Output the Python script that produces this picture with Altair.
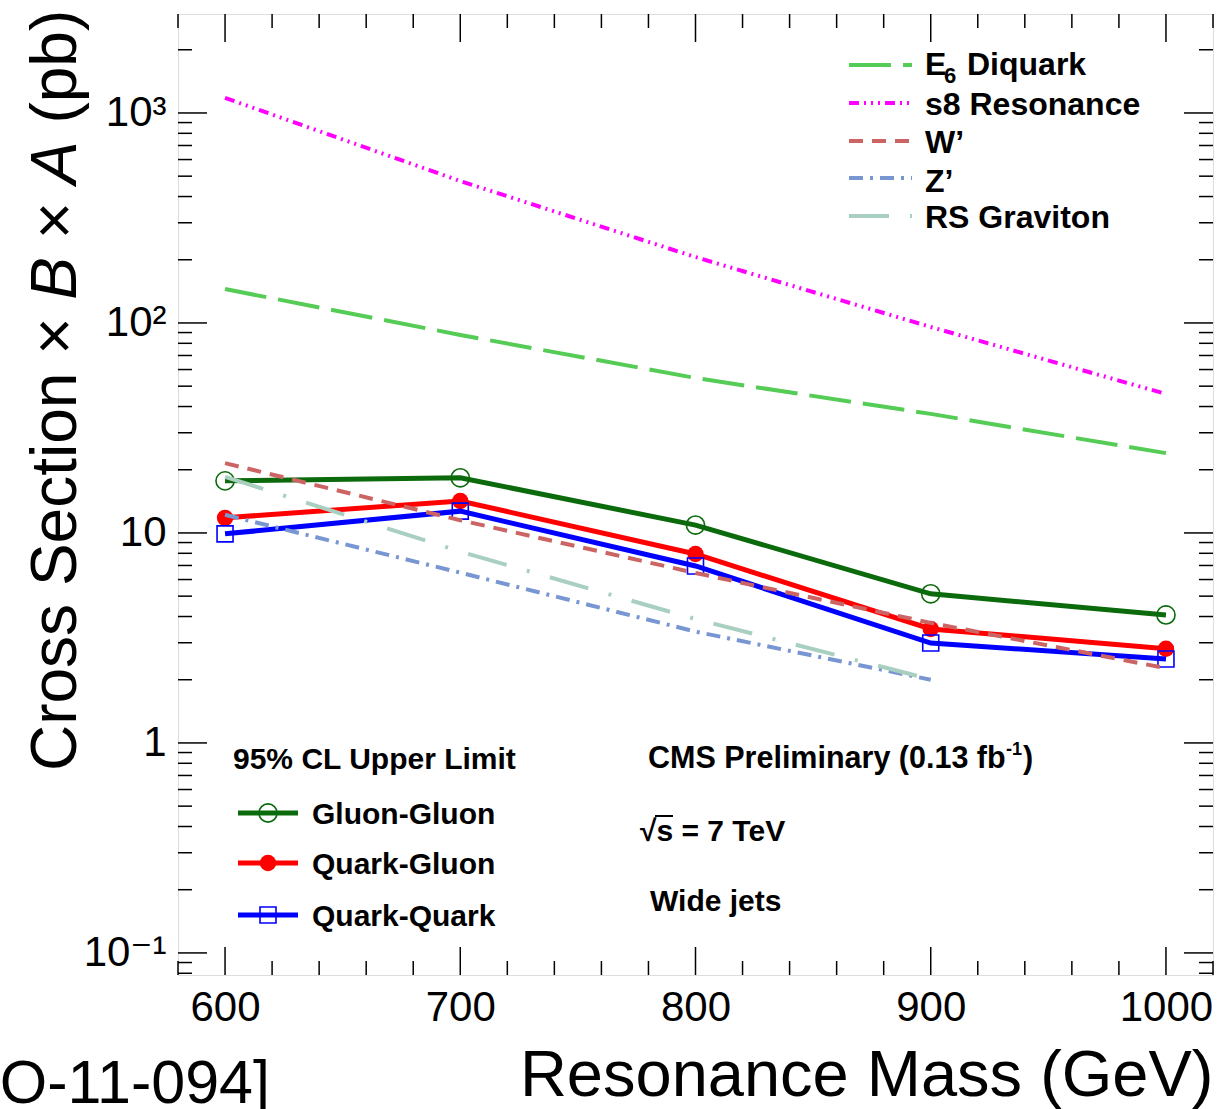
import altair as alt
import pandas as pd

# ---------------- data ----------------
mass = [600, 700, 800, 900, 1000]
gluon_gluon = [17.7, 18.3, 10.9, 5.13, 4.07]
quark_gluon = [11.8, 14.2, 7.94, 3.49, 2.81]
quark_quark = [9.9, 12.7, 6.96, 2.99, 2.51]

e6_diquark = [145, 87.7, 54.7, 36.9, 24.0]
s8_resonance = [1180, 474, 206, 95.7, 45.9]
w_prime = [21.5, 11.5, 6.45, 3.73, 2.27]
z_mass = [600, 700, 800, 900]
z_prime = [12.2, 6.47, 3.39, 2.0]
rs_mass = [600, 700, 800, 900]
rs_graviton = [18.5, 8.15, 3.89, 2.01]

x_major = [600, 700, 800, 900, 1000]
x_minor = [580, 620, 640, 660, 680, 720, 740, 760, 780, 820, 840, 860, 880, 920, 940, 960, 980, 1020]
y_major = [0.1, 1, 10, 100, 1000]
y_minor = [0.08, 0.09, 0.2, 0.3, 0.4, 0.5, 0.6, 0.7, 0.8, 0.9,
           2, 3, 4, 5, 6, 7, 8, 9, 20, 30, 40, 50, 60, 70, 80, 90,
           200, 300, 400, 500, 600, 700, 800, 900, 2000]

# ---------------- layout / styles ----------------
W, H = 1035, 961
FONT = "Liberation Sans"
C_GG, C_QG, C_QQ = "#0b6a0b", "#ff0000", "#0000ff"
C_E6, C_S8, C_W, C_Z, C_RS = "#55cc55", "#ff00ff", "#cd6464", "#7896d2", "#a8cfc0"

xscale = alt.Scale(domain=[580, 1020], nice=False, zero=False)
yscale = alt.Scale(type="log", domain=[0.0785, 2960], nice=False)

xaxis = alt.Axis(values=x_major, ticks=False, domain=False, grid=False, format="d",
                 labelFontSize=42, labelFont=FONT, labelColor="black",
                 labelPadding=12, labelFlush=False,
                 title="Resonance Mass (GeV)", titleFontSize=65, titleFont=FONT,
                 titleFontWeight="normal", titleColor="black", titleAnchor="end",
                 titleAlign="right", titleX=W, titleY=120, titleBaseline="alphabetic")
yaxis = alt.Axis(values=y_major, ticks=False, domain=False, grid=False,
                 labelFontSize=42, labelFont=FONT + ", DejaVu Sans", labelColor="black",
                 labelPadding=12, labelFlush=False,
                 labelExpr="datum.value >= 999 ? '10³' : datum.value >= 99 ? '10²' : "
                           "datum.value >= 9 ? '10' : datum.value >= 0.9 ? '1' : '10⁻¹'",
                 title=None)


def X(field="mass"):
    return alt.X(f"{field}:Q", scale=xscale, axis=xaxis)


def Y(field="xs"):
    return alt.Y(f"{field}:Q", scale=yscale, axis=yaxis)


def sdf(xs, ys):
    return pd.DataFrame({"mass": xs, "xs": ys})


one = pd.DataFrame({"k": [0]})
layers = []

# ---------------- ticks (inward, ROOT style, all four sides) ----------------
for vals, ln in [(y_major, 29), (y_minor, 14)]:
    d = pd.DataFrame({"v": vals})
    layers.append(alt.Chart(d).mark_rule(color="black", strokeWidth=1.5).encode(
        y=Y("v"), x=alt.value(0), x2=alt.value(ln)))
    layers.append(alt.Chart(d).mark_rule(color="black", strokeWidth=1.5).encode(
        y=Y("v"), x=alt.value(W - ln), x2=alt.value(W)))
for vals, ln in [(x_major, 28), (x_minor, 14)]:
    d = pd.DataFrame({"v": vals})
    layers.append(alt.Chart(d).mark_rule(color="black", strokeWidth=1.5).encode(
        x=X("v"), y=alt.value(H - ln), y2=alt.value(H)))
    layers.append(alt.Chart(d).mark_rule(color="black", strokeWidth=1.5).encode(
        x=X("v"), y=alt.value(0), y2=alt.value(ln)))

# ---------------- limit curves ----------------
limits = [
    (gluon_gluon, C_GG, dict(shape="circle", filled=False, size=330, strokeWidth=1.6)),
    (quark_gluon, C_QG, dict(shape="circle", filled=True, size=270)),
    (quark_quark, C_QQ, dict(shape="square", filled=False, size=256, strokeWidth=1.6)),
]
for ys, col, pt in limits:
    d = sdf(mass, ys)
    layers.append(alt.Chart(d).mark_line(color=col, strokeWidth=5).encode(x=X(), y=Y()))
    layers.append(alt.Chart(d).mark_point(color=col, opacity=1, **pt).encode(x=X(), y=Y()))

# ---------------- model curves ----------------
models = [
    ("E6 Diquark", mass, e6_diquark, C_E6, [42, 12]),
    ("s8 Resonance", mass, s8_resonance, C_S8, [10, 5, 2, 5, 2, 5, 2, 5]),
    ("W'", mass, w_prime, C_W, [14, 9]),
    ("Z'", z_mass, z_prime, C_Z, [14, 7, 3, 7]),
    ("RS Graviton", rs_mass, rs_graviton, C_RS, [40, 21, 3, 21]),
]
for name, xs, ys, col, dash in models:
    layers.append(alt.Chart(sdf(xs, ys)).mark_line(
        color=col, strokeWidth=4, strokeDash=dash).encode(x=X(), y=Y()))


def text(t, x, y, size, weight="bold", style="normal", angle=0, align="left",
         baseline="alphabetic", font=FONT):
    return alt.Chart(one).mark_text(
        text=t, fontSize=size, fontWeight=weight, fontStyle=style, font=font,
        angle=angle, align=align, baseline=baseline, color="black").encode(
        x=alt.value(x), y=alt.value(y))


# ---------------- model legend (top right) ----------------
leg_y_line = [51, 89, 127, 164, 202]
leg_y_text = [61, 101, 139, 178, 214]
for (name, xs, ys, col, dash), yl, yt in zip(models, leg_y_line, leg_y_text):
    layers.append(alt.Chart(one).mark_rule(color=col, strokeWidth=4, strokeDash=dash).encode(
        x=alt.value(671), x2=alt.value(734), y=alt.value(yl)))
    if name == "E6 Diquark":
        layers.append(text("E", 747, yt, 32))
        layers.append(text("6", 766, yt + 8, 22))
        layers.append(text("Diquark", 789, yt, 32))
    else:
        layers.append(text(name.replace("'", "’"), 747, yt, 32))

# ---------------- limit legend (bottom left) ----------------
layers.append(text("95% CL Upper Limit", 55, 755, 30))
lim_names = ["Gluon-Gluon", "Quark-Gluon", "Quark-Quark"]
row_y = [799, 849, 901]
for (ys, col, pt), nm, ry in zip(limits, lim_names, row_y):
    layers.append(alt.Chart(one).mark_rule(color=col, strokeWidth=5).encode(
        x=alt.value(60), x2=alt.value(120), y=alt.value(ry)))
    layers.append(alt.Chart(one).mark_point(color=col, opacity=1, **pt).encode(
        x=alt.value(90), y=alt.value(ry)))
    layers.append(text(nm, 134, ry + 11, 30))

# ---------------- annotations ----------------
cms_main = "CMS Preliminary (0.13 fb"
layers.append(text(cms_main, 470, 754, 30.5))
layers.append(text("-1", 828, 741, 18))
layers.append(text(")", 845, 754, 30.5))
layers.append(text("√s = 7 TeV", 462, 827, 30, font=FONT + ", DejaVu Sans"))
layers.append(alt.Chart(one).mark_rule(color="black", strokeWidth=2).encode(
    x=alt.value(477), x2=alt.value(495), y=alt.value(802)))
layers.append(text("Wide jets", 472, 897, 30))
layers.append(text("[CMS PAS EXO-11-094]", 92, 1089, 61, weight="normal", align="right"))

# ---------------- y title with italic B and A ----------------
ysize = 64
pieces = [("Cross Section ×", "normal", 7.364), ("B", "italic", 0.667 + 0.278),
          ("×", "normal", 0.584 + 0.278), ("A", "italic", 0.667 + 0.278),
          ("(pb)", "normal", 1.778)]
pos = 757.0
for t, st, adv in pieces:
    layers.append(text(t, -102, pos, ysize, weight="normal", style=st, angle=270))
    pos -= adv * ysize

chart = alt.layer(*layers).properties(
    width=W, height=H,
    autosize=alt.AutoSizeParams(type="none"),
    padding={"left": 178, "top": 14, "right": 5, "bottom": 134},
    background="white",
).configure_view(stroke="black", strokeWidth=2).configure(font=FONT)

chart.save("out.html", embed_options={"renderer": "svg", "actions": False})
